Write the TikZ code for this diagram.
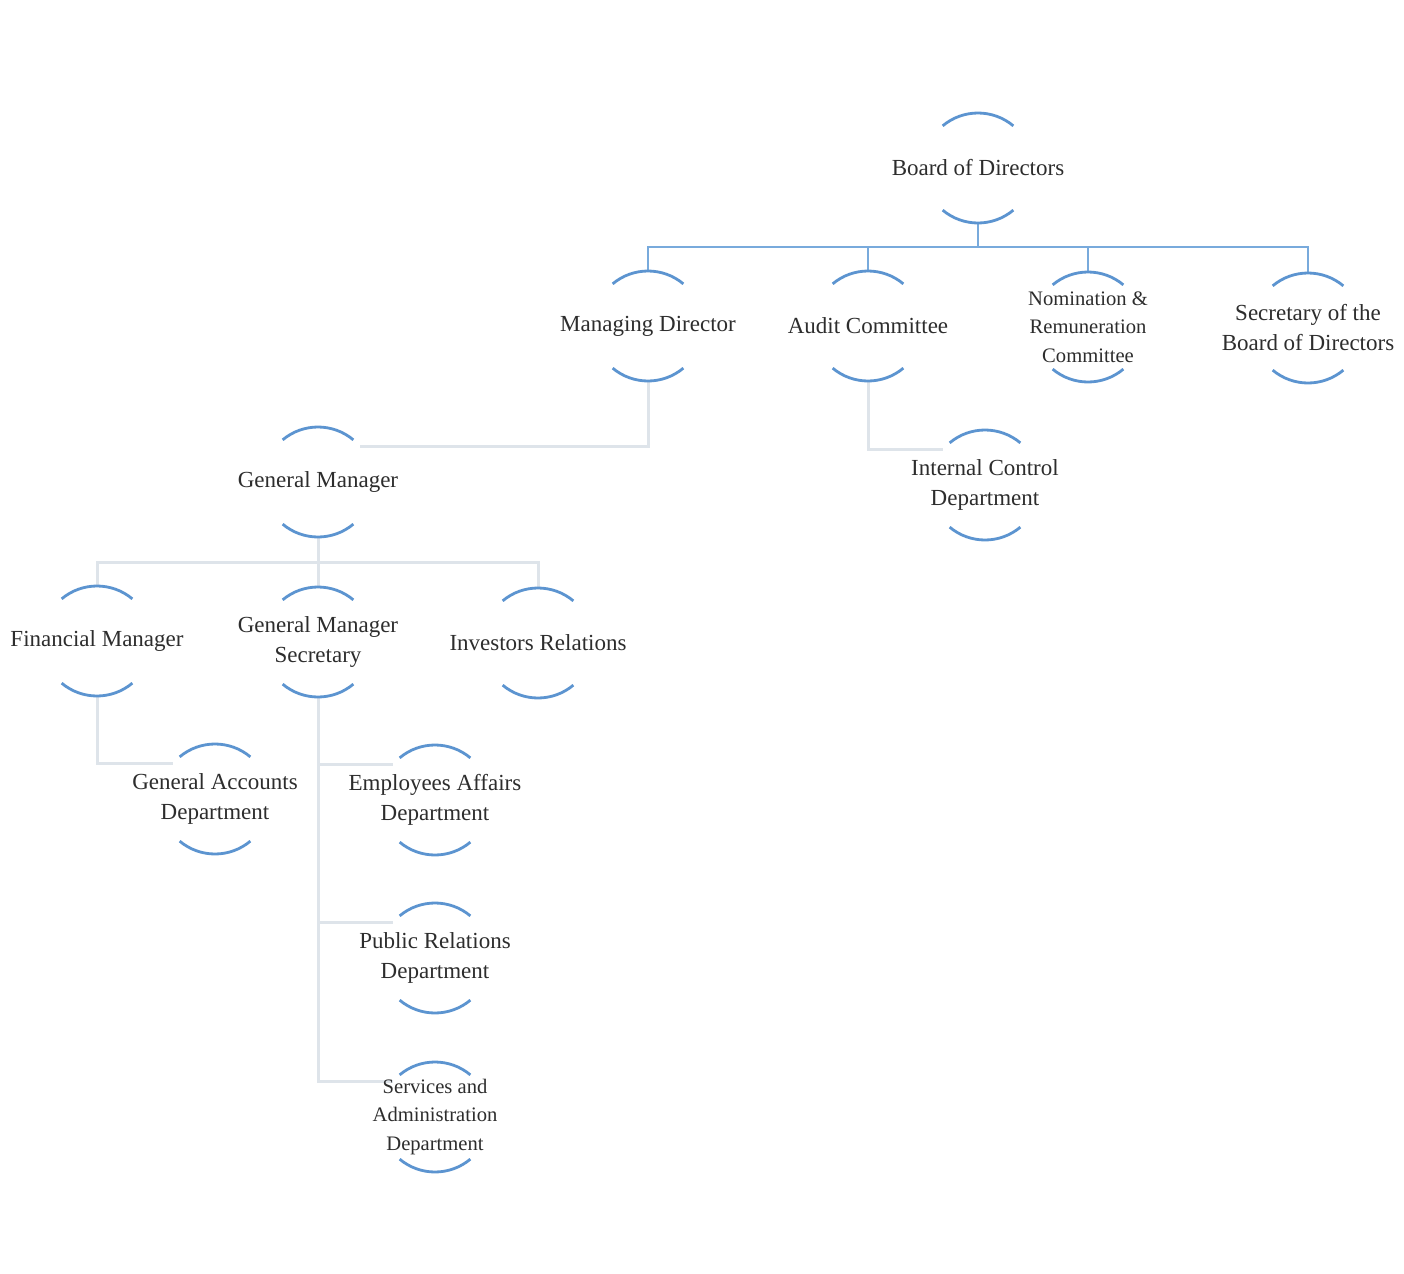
\documentclass[tikz,border=0pt]{standalone}
\usepackage{fontspec}
\setmainfont{Liberation Serif}
\definecolor{arcblue}{RGB}{92,148,208}
\definecolor{busblue}{RGB}{120,170,220}
\definecolor{linegray}{RGB}{222,228,234}
\definecolor{txtgray}{RGB}{45,45,45}
\tikzset{
  ring/.style={circle,minimum size=55pt,inner sep=0pt,outer sep=0pt},
  lbl/.style={align=center,inner sep=0pt,text=txtgray,font=\fontsize{11.5}{15}\selectfont},
  lblsmall/.style={lbl,font=\fontsize{10.3}{14.2}\selectfont},
  arcst/.style={draw=arcblue,line width=1.4pt},
  busline/.style={draw=busblue,line width=1.1pt},
  grayline/.style={draw=linegray,line width=1.5pt}
}
\begin{document}
\begin{tikzpicture}[x=0.5pt,y=-0.5pt]
\useasboundingbox[fill=white] (0,0) rectangle (1404,1274);
% ring nodes
\node[ring] (bod) at (978,168) {};
\node[ring] (md)  at (648,326) {};
\node[ring] (ac)  at (868,326) {};
\node[ring] (nrc) at (1088,327) {};
\node[ring] (sbd) at (1308,328) {};
\node[ring] (gm)  at (318,482) {};
\node[ring] (ic)  at (985,485) {};
\node[ring] (fm)  at (97,641) {};
\node[ring] (gms) at (318,642) {};
\node[ring] (ir)  at (538,643) {};
\node[ring] (ga)  at (215,799) {};
\node[ring] (ea)  at (435,800) {};
\node[ring] (pr)  at (435,958) {};
\node[ring] (sad) at (435,1117) {};
% connectors
\coordinate (busy) at (0,247);
\foreach \c in {md,ac,nrc,sbd}{
  \draw[busline] (bod.south) -- (bod.south |- busy) -| (\c.north);
}
\draw[grayline] (md.south) |- (gm.40);
\draw[grayline] (ac.south) |- (ic.140);
\coordinate (gmbus) at (0,562);
\foreach \c in {fm,gms,ir}{
  \draw[grayline] (gm.south) -- (gm.south |- gmbus) -| (\c.north);
}
\draw[grayline] (fm.south) |- (ga.140);
\foreach \c in {ea,pr,sad}{
  \draw[grayline] (gms.south) |- (\c.140);
}
% arcs
\foreach \n in {bod,md,ac,nrc,sbd,gm,ic,fm,gms,ir,ga,ea,pr,sad}{
  \draw[arcst] (\n.50) arc[start angle=50,end angle=130,radius=27.5pt];
  \draw[arcst] (\n.230) arc[start angle=230,end angle=310,radius=27.5pt];
}
% labels
\node[lbl] (bod-t) at (bod) {Board of Directors};
\node[lbl] (md-t) at (md) {Managing Director};
\node[lbl] (ac-t) at (ac) {Audit Committee};
\node[lblsmall] (nrc-t) at (nrc) {Nomination \&\\Remuneration\\Committee};
\node[lbl] (sbd-t) at (sbd) {Secretary of the\\Board of Directors};
\node[lbl] (gm-t) at (gm) {General Manager};
\node[lbl] (ic-t) at (ic) {Internal Control\\Department};
\node[lbl] (fm-t) at (fm) {Financial Manager};
\node[lbl] (gms-t) at (gms) {General Manager\\Secretary};
\node[lbl] (ir-t) at (ir) {Investors Relations};
\node[lbl] (ga-t) at (ga) {General Accounts\\Department};
\node[lbl] (ea-t) at (ea) {Employees Affairs\\Department};
\node[lbl] (pr-t) at (pr) {Public Relations\\Department};
\node[lblsmall] (sad-t) at (sad) {Services and\\Administration\\Department};
\end{tikzpicture}
\end{document}
